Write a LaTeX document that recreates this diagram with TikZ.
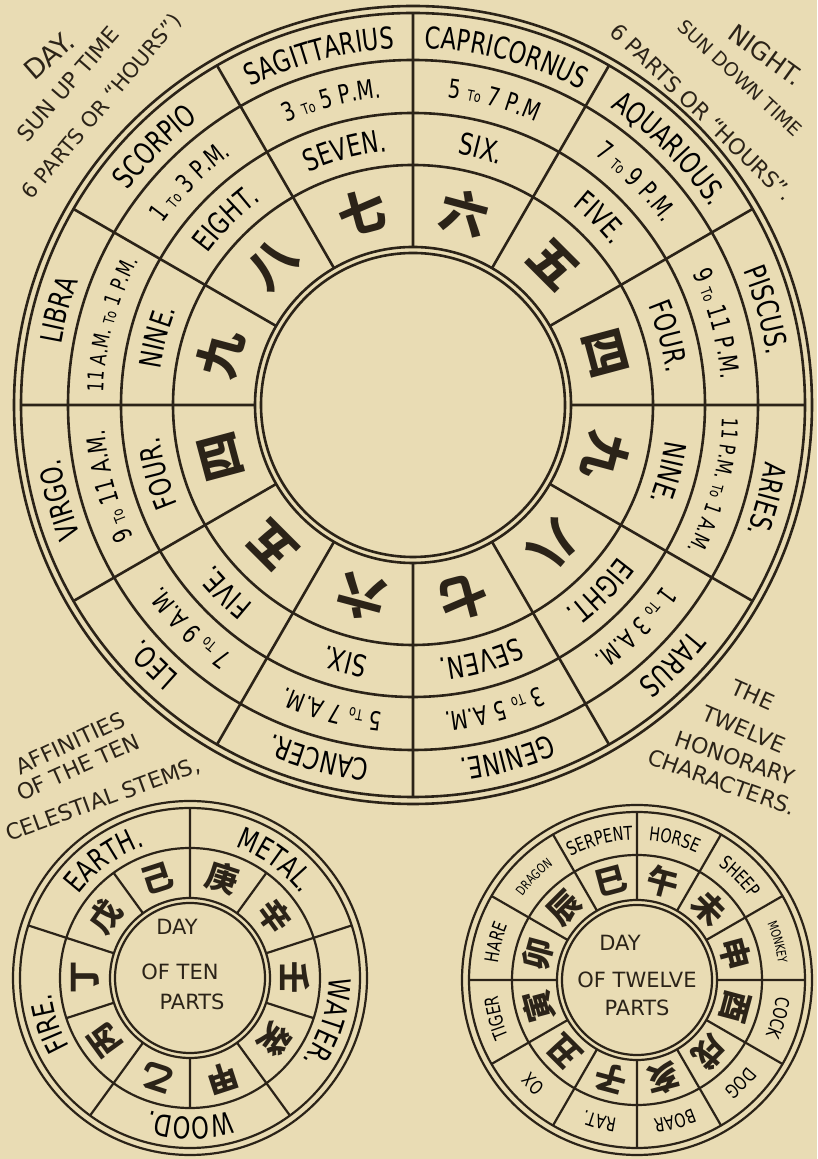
\documentclass[tikz,border=0pt]{standalone}
\usepackage{fontspec}
\usetikzlibrary{decorations.text}
\setmainfont{DejaVu Sans}
\newfontfamily\hand[FakeStretch=0.75]{DejaVu Sans}
\newfontfamily\cjk{Noto Sans CJK SC}
\definecolor{paper}{HTML}{E9DCB4}
\definecolor{ink}{HTML}{2B2318}

\newcommand\zodfont{\hand\fontsize{30}{30}\selectfont}
\newcommand\hourfont{\hand\fontsize{26}{26}\selectfont}
\newcommand\longhourfont{\hand\fontsize{22}{22}\selectfont}
\newcommand\tofont{\hand\fontsize{15}{15}\selectfont}
\newcommand\numfont{\hand\fontsize{30}{30}\selectfont}
\newcommand\elemfont{\hand\fontsize{30}{30}\selectfont}
\newcommand\beastfont{\hand\fontsize{19}{19}\selectfont}
\newcommand\tinybeastfont{\hand\fontsize{13}{13}\selectfont}

% text set along a clockwise arc: middle angle, half span, baseline radius, text
\newcommand\arclabel[4]{%
  \path[decorate, decoration={text along path, text align=center, text={#4}}]
    ({#1+#2}:#3) arc[start angle={#1+#2}, end angle={#1-#2}, radius=#3];}

\begin{document}
\begin{tikzpicture}[x=1pt, y=1pt, color=ink,
  rim/.style={line width=2.6pt},
  smallrim/.style={line width=2.2pt},
  glyph/.style={font=\cjk\bfseries\fontsize{48}{48}\selectfont, inner sep=0pt},
  smallglyph/.style={font=\cjk\bfseries\fontsize{32}{32}\selectfont, inner sep=0pt},
  note/.style={font=\fontsize{22}{22}\selectfont, inner sep=0pt},
  centre/.style={font=\fontsize{21}{21}\selectfont, inner sep=0pt},
]

\useasboundingbox (0,0) rectangle (817,1159);
\fill[paper] (0,0) rectangle (817,1159);

% the twelve hours
\begin{scope}[shift={(413,754)}]
\draw[rim] (0,0) circle[radius=399] (0,0) circle[radius=392]
  (0,0) circle[radius=345] (0,0) circle[radius=292] (0,0) circle[radius=240]
  (0,0) circle[radius=158] (0,0) circle[radius=152];
\draw[rim] (0:158) -- (0:392) (30:158) -- (30:392) (60:158) -- (60:392)
  (90:158) -- (90:392) (120:158) -- (120:392) (150:158) -- (150:392)
  (180:158) -- (180:392) (210:158) -- (210:392) (240:158) -- (240:392)
  (270:158) -- (270:392) (300:158) -- (300:392) (330:158) -- (330:392);

\arclabel{105}{14}{357}{|\zodfont|SAGITTARIUS}
\arclabel{75}{14}{357}{|\zodfont|CAPRICORNUS}
\arclabel{45}{14}{357}{|\zodfont|AQUARIOUS.}
\arclabel{15}{14}{357}{|\zodfont|PISCUS.}
\arclabel{345}{14}{357}{|\zodfont|ARIES.}
\arclabel{315}{14}{357}{|\zodfont|TARUS}
\arclabel{285}{14}{357}{|\zodfont|GENINE.}
\arclabel{255}{14}{357}{|\zodfont|CANCER.}
\arclabel{225}{14}{357}{|\zodfont|LEO.}
\arclabel{195}{14}{357}{|\zodfont|VIRGO.}
\arclabel{165}{14}{357}{|\zodfont|LIBRA}
\arclabel{135}{14}{357}{|\zodfont|SCORPIO}

\arclabel{105}{14}{309}{|\hourfont|3 |\tofont|To|\hourfont| 5 P.M.}
\arclabel{75}{14}{309}{|\hourfont|5 |\tofont|To|\hourfont| 7 P.M}
\arclabel{45}{14}{309}{|\hourfont|7 |\tofont|To|\hourfont| 9 P.M.}
\arclabel{15}{14}{309}{|\hourfont|9 |\tofont|To|\hourfont| 11 P.M.}
\arclabel{345}{14}{310}{|\longhourfont|11 P.M. |\tofont|To|\longhourfont| 1 A.M.}
\arclabel{315}{14}{309}{|\hourfont|1 |\tofont|To|\hourfont| 3 A.M.}
\arclabel{285}{14}{309}{|\hourfont|3 |\tofont|To|\hourfont| 5 A.M.}
\arclabel{255}{14}{309}{|\hourfont|5 |\tofont|To|\hourfont| 7 A.M.}
\arclabel{225}{14}{309}{|\hourfont|7 |\tofont|To|\hourfont| 9 A.M.}
\arclabel{195}{14}{309}{|\hourfont|9 |\tofont|To|\hourfont| 11 A.M.}
\arclabel{165}{14}{310}{|\longhourfont|11 A.M. |\tofont|To|\longhourfont| 1 P.M.}
\arclabel{135}{14}{309}{|\hourfont|1 |\tofont|To|\hourfont| 3 P.M.}

\arclabel{105}{14}{255}{|\numfont|SEVEN.}
\arclabel{75}{14}{255}{|\numfont|SIX.}
\arclabel{45}{14}{255}{|\numfont|FIVE.}
\arclabel{15}{14}{255}{|\numfont|FOUR.}
\arclabel{345}{14}{255}{|\numfont|NINE.}
\arclabel{315}{14}{255}{|\numfont|EIGHT.}
\arclabel{285}{14}{255}{|\numfont|SEVEN.}
\arclabel{255}{14}{255}{|\numfont|SIX.}
\arclabel{225}{14}{255}{|\numfont|FIVE.}
\arclabel{195}{14}{255}{|\numfont|FOUR.}
\arclabel{165}{14}{255}{|\numfont|NINE.}
\arclabel{135}{14}{255}{|\numfont|EIGHT.}

\node[glyph, rotate=15] (k1) at (105:199) {七};
\node[glyph, rotate=-15] (k2) at (75:199) {六};
\node[glyph, rotate=-45] (k3) at (45:199) {五};
\node[glyph, rotate=-75] (k4) at (15:199) {四};
\node[glyph, rotate=-105] (k5) at (345:199) {九};
\node[glyph, rotate=-135] (k6) at (315:199) {八};
\node[glyph, rotate=-165] (k7) at (285:199) {七};
\node[glyph, rotate=165] (k8) at (255:199) {六};
\node[glyph, rotate=135] (k9) at (225:199) {五};
\node[glyph, rotate=105] (k10) at (195:199) {四};
\node[glyph, rotate=75] (k11) at (165:199) {九};
\node[glyph, rotate=45] (k12) at (135:199) {八};
\end{scope}

% the ten stems
\begin{scope}[shift={(190,181)}]
\draw[smallrim] (0,0) circle[radius=177] (0,0) circle[radius=170]
  (0,0) circle[radius=130] (0,0) circle[radius=80] (0,0) circle[radius=75];
\draw[smallrim] (18:130) -- (18:170) (90:130) -- (90:170) (162:130) -- (162:170)
  (234:130) -- (234:170) (306:130) -- (306:170);
\draw[smallrim] (18:80) -- (18:130) (54:80) -- (54:130) (90:80) -- (90:130)
  (126:80) -- (126:130) (162:80) -- (162:130) (198:80) -- (198:130)
  (234:80) -- (234:130) (270:80) -- (270:130) (306:80) -- (306:130)
  (342:80) -- (342:130);

\arclabel{54}{34}{139}{|\elemfont|METAL.}
\arclabel{126}{34}{139}{|\elemfont|EARTH.}
\arclabel{198}{34}{139}{|\elemfont|FIRE.}
\arclabel{270}{34}{139}{|\elemfont|WOOD.}
\arclabel{342}{34}{139}{|\elemfont|WATER.}

\node[smallglyph, rotate=-18] (s1) at (72:105) {庚};
\node[smallglyph, rotate=-54] (s2) at (36:105) {辛};
\node[smallglyph, rotate=-90] (s3) at (0:105) {壬};
\node[smallglyph, rotate=-126] (s4) at (324:105) {癸};
\node[smallglyph, rotate=-162] (s5) at (288:105) {甲};
\node[smallglyph, rotate=162] (s6) at (252:105) {乙};
\node[smallglyph, rotate=126] (s7) at (216:105) {丙};
\node[smallglyph, rotate=90] (s8) at (180:105) {丁};
\node[smallglyph, rotate=54] (s9) at (144:105) {戊};
\node[smallglyph, rotate=18] (s10) at (108:105) {己};

\node[centre] (tenday) at (-13,51) {DAY};
\node[centre] (tenof) at (-10,6) {OF TEN};
\node[centre] (tenparts) at (2,-24) {PARTS};
\end{scope}

% the twelve branches
\begin{scope}[shift={(637,179)}]
\draw[smallrim] (0,0) circle[radius=175] (0,0) circle[radius=168]
  (0,0) circle[radius=125] (0,0) circle[radius=80] (0,0) circle[radius=75];
\draw[smallrim] (0:80) -- (0:168) (30:80) -- (30:168) (60:80) -- (60:168)
  (90:80) -- (90:168) (120:80) -- (120:168) (150:80) -- (150:168)
  (180:80) -- (180:168) (210:80) -- (210:168) (240:80) -- (240:168)
  (270:80) -- (270:168) (300:80) -- (300:168) (330:80) -- (330:168);

\arclabel{75}{14}{140}{|\beastfont|HORSE}
\arclabel{105}{14}{140}{|\beastfont|SERPENT}
\arclabel{135}{14}{142}{|\tinybeastfont|DRAGON}
\arclabel{165}{14}{140}{|\beastfont|HARE}
\arclabel{195}{14}{140}{|\beastfont|TIGER}
\arclabel{225}{14}{140}{|\beastfont|OX}
\arclabel{255}{14}{140}{|\beastfont|RAT.}
\arclabel{285}{14}{140}{|\beastfont|BOAR}
\arclabel{315}{14}{140}{|\beastfont|DOG}
\arclabel{345}{14}{140}{|\beastfont|COCK}
\arclabel{15}{14}{142}{|\tinybeastfont|MONKEY}
\arclabel{45}{14}{140}{|\beastfont|SHEEP}

\node[smallglyph, rotate=-15] (b1) at (75:102) {午};
\node[smallglyph, rotate=15] (b2) at (105:102) {巳};
\node[smallglyph, rotate=45] (b3) at (135:102) {辰};
\node[smallglyph, rotate=75] (b4) at (165:102) {卯};
\node[smallglyph, rotate=105] (b5) at (195:102) {寅};
\node[smallglyph, rotate=135] (b6) at (225:102) {丑};
\node[smallglyph, rotate=165] (b7) at (255:102) {子};
\node[smallglyph, rotate=-165] (b8) at (285:102) {亥};
\node[smallglyph, rotate=-135] (b9) at (315:102) {戌};
\node[smallglyph, rotate=-105] (b10) at (345:102) {酉};
\node[smallglyph, rotate=-75] (b11) at (15:102) {申};
\node[smallglyph, rotate=-45] (b12) at (45:102) {未};

\node[centre] (twday) at (-17,37) {DAY};
\node[centre] (twof) at (0,0) {OF TWELVE};
\node[centre] (twparts) at (0,-28) {PARTS};
\end{scope}

% notes in the corners
\node[note, font=\fontsize{27}{27}\selectfont, rotate=41] (day) at (49,1103) {DAY.};
\node[note, rotate=49] (dayup) at (68,1075) {SUN UP TIME};
\node[note, font=\fontsize{21}{21}\selectfont, rotate=50] (dayparts) at (102,1052) {6 PARTS OR “HOURS”)};
\node[note, font=\fontsize{25}{25}\selectfont, rotate=-36] (night) at (766,1104) {NIGHT.};
\node[note, font=\fontsize{19}{19}\selectfont, rotate=-43] (nightdown) at (740,1081) {SUN DOWN TIME};
\node[note, rotate=-44] (nightparts) at (702,1047) {6 PARTS OR “HOURS”.};
\node[note, rotate=25] (aff1) at (70,416) {AFFINITIES};
\node[note, rotate=24] (aff2) at (78,392) {OF THE TEN};
\node[note, rotate=20] (aff3) at (103,359) {CELESTIAL STEMS,};
\node[note, rotate=-24] (hon1) at (753,464) {THE};
\node[note, rotate=-23] (hon2) at (744,430) {TWELVE};
\node[note, rotate=-19] (hon3) at (735,401) {HONORARY};
\node[note, rotate=-20] (hon4) at (722,377) {CHARACTERS.};

\end{tikzpicture}
\end{document}
